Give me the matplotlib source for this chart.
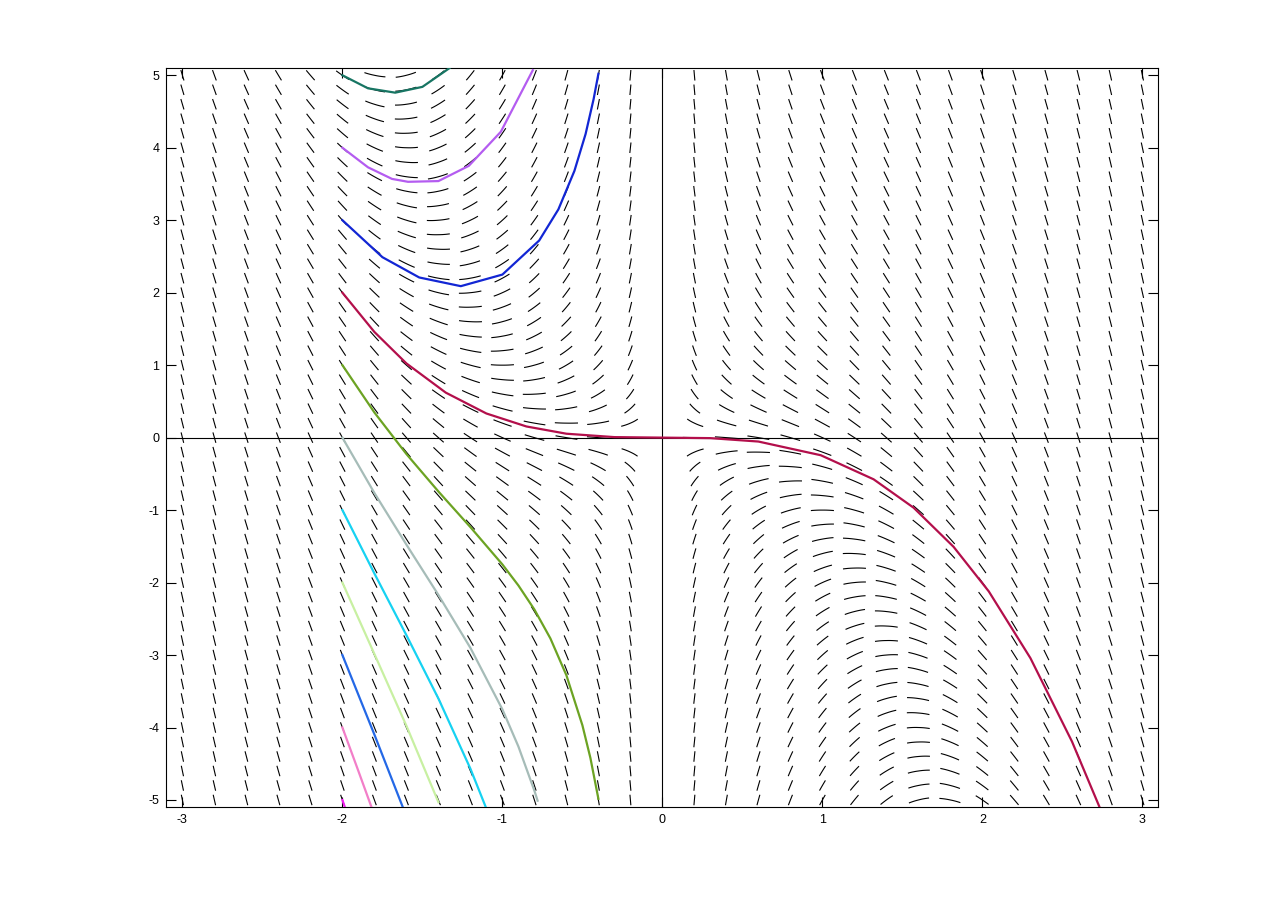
import numpy as np
import matplotlib
matplotlib.use("Agg")
import matplotlib.pyplot as plt
from matplotlib.collections import LineCollection

# ---- data -------------------------------------------------------------
# slope field of the ODE  y' = -y/x - x^2  sampled on a 0.2 grid (x = 0 is undefined)
x_grid = [round(-3 + 0.2 * i, 1) for i in range(31) if i != 15]
y_grid = [round(-5 + 0.2 * j, 1) for j in range(51)]

# solution curves (all start at x = -2)
teal_x = [-2.0, -1.84, -1.67, -1.5, -1.33]
teal_y = [5.0, 4.82, 4.76, 4.84, 5.10]

purple_x = [-2.0, -1.84, -1.69, -1.59, -1.40, -1.21, -1.01, -0.81]
purple_y = [4.0, 3.73, 3.57, 3.53, 3.54, 3.75, 4.22, 5.07]

blue_x = [-2.0, -1.75, -1.52, -1.26, -1.0, -0.77, -0.65, -0.55, -0.48, -0.43, -0.40]
blue_y = [3.0, 2.49, 2.21, 2.09, 2.25, 2.72, 3.15, 3.68, 4.19, 4.67, 5.02]

red_x = [-2.0, -1.8, -1.6, -1.354, -1.1, -0.85, -0.6, -0.3, 0.0, 0.3, 0.6, 0.99,
         1.32, 1.57, 1.82, 2.04, 2.30, 2.56, 2.73]
red_y = [2.0, 1.458, 1.024, 0.621, 0.333, 0.154, 0.054, 0.007, 0.0, -0.007, -0.054,
         -0.243, -0.575, -0.967, -1.507, -2.122, -3.042, -4.194, -5.087]

green_x = [-2.0, -1.8, -1.6, -1.4, -1.2, -1.0, -0.9, -0.8, -0.7, -0.6, -0.5, -0.45, -0.40]
green_y = [1.0, 0.347, -0.226, -0.743, -1.235, -1.75, -2.04, -2.372, -2.771, -3.279,
           -3.969, -4.42, -4.984]

gray_x = [-2.0, -1.8, -1.6, -1.4, -1.2, -1.0, -0.9, -0.8, -0.78]
gray_y = [0.0, -0.764, -1.476, -2.171, -2.901, -3.75, -4.262, -4.872, -5.01]

cyan_x = [-2.0, -1.8, -1.6, -1.4, -1.2, -1.1]
cyan_y = [-1.0, -1.875, -2.726, -3.60, -4.568, -5.12]

lgreen_x = [-2.0, -1.8, -1.6, -1.4]
lgreen_y = [-2.0, -2.986, -3.976, -5.03]

blue2_x = [-2.0, -1.8, -1.6]
blue2_y = [-3.0, -4.098, -5.226]

pink_x = [-2.0, -1.9, -1.8]
pink_y = [-4.0, -4.601, -5.209]

magenta_x = [-2.0, -1.98]
magenta_y = [-5.0, -5.13]

curves = [
    (teal_x, teal_y, "#177563"),
    (purple_x, purple_y, "#b45cf0"),
    (blue_x, blue_y, "#1226d4"),
    (red_x, red_y, "#b30f4b"),
    (green_x, green_y, "#6ca323"),
    (gray_x, gray_y, "#a6bcb8"),
    (cyan_x, cyan_y, "#16d2f2"),
    (lgreen_x, lgreen_y, "#c8f0a2"),
    (blue2_x, blue2_y, "#2468e6"),
    (pink_x, pink_y, "#f27ec8"),
    (magenta_x, magenta_y, "#f020f0"),
]

x_ticks = [-3, -2, -1, 0, 1, 2, 3]
y_ticks = [-5, -4, -3, -2, -1, 0, 1, 2, 3, 4, 5]


def slope(x, y):
    return -y / x - x ** 2


# ---- figure -----------------------------------------------------------
plt.rcParams['font.family'] = ['Liberation Sans', 'DejaVu Sans']
fig = plt.figure(figsize=(12.8, 9.07), dpi=100)
fig.patch.set_facecolor("white")
ax = fig.add_axes([0.13, 0.11, 0.775, 0.815])

# direction field as short integral arcs centred on grid points
L = 0.145
nstep = 6
h = L / 2 / nstep
segs = []
for xg in x_grid:
    for yg in y_grid:
        fwd = [(xg, yg)]
        x, y = xg, yg
        for _ in range(nstep):
            f = slope(x, y)
            d = 1.0 / np.sqrt(1 + f * f)
            x, y = x + h * d, y + h * f * d
            fwd.append((x, y))
        bwd = []
        x, y = xg, yg
        for _ in range(nstep):
            f = slope(x, y)
            d = 1.0 / np.sqrt(1 + f * f)
            x, y = x - h * d, y - h * f * d
            bwd.append((x, y))
        segs.append(bwd[::-1] + fwd)

lc = LineCollection(segs, colors="black", linewidths=0.8, zorder=2)
ax.add_collection(lc)

ax.axhline(0, color="black", lw=0.8, zorder=1)
ax.axvline(0, color="black", lw=0.8, zorder=1)

for cx, cy, col in curves:
    ax.plot(cx, cy, color=col, lw=1.6, zorder=3, solid_joinstyle="round")

ax.set_xlim(-3.1, 3.1)
ax.set_ylim(-5.1, 5.1)
ax.set_xticks(x_ticks)
ax.set_yticks(y_ticks)
ax.set_xticklabels([str(v) for v in x_ticks])
ax.set_yticklabels([str(v) for v in y_ticks])
ax.tick_params(direction="in", length=7, width=0.8, top=True, right=True,
               labelsize=9, pad=5, colors="black")
for s in ax.spines.values():
    s.set_linewidth(0.8)
    s.set_color("black")

fig.savefig("out.png", dpi=100, facecolor="white")
